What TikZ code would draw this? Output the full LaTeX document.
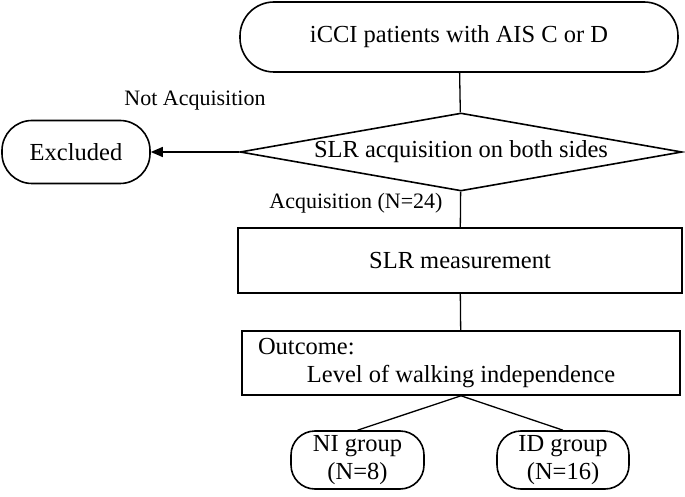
\documentclass[tikz,border=0pt]{standalone}
\usepackage{fontspec}
\setmainfont{Liberation Serif}
\usetikzlibrary{shapes.geometric, arrows.meta}
\newcommand{\boxfont}{\fontsize{24.5}{28}\selectfont}
\newcommand{\labfont}{\fontsize{22}{26}\selectfont}
\tikzstyle{startstop} = [rectangle, rounded corners=34pt, minimum width=438pt, minimum height=70pt, text centered, draw=black, line width=1.6pt, font=\boxfont]
\tikzstyle{exclude} = [rectangle, rounded corners=30pt, minimum width=148pt, minimum height=63pt, text centered, draw=black, line width=1.6pt, font=\boxfont]
\tikzstyle{decision} = [diamond, aspect=5.67, inner sep=0pt, minimum width=442pt, minimum height=78pt, text centered, draw=black, line width=1.6pt, font=\boxfont]
\tikzstyle{process} = [rectangle, minimum width=444pt, minimum height=65pt, text centered, draw=black, line width=1.6pt, font=\boxfont]
\tikzstyle{group} = [rectangle, rounded corners=24pt, minimum width=133pt, minimum height=58pt, align=center, inner sep=0pt, draw=black, line width=1.6pt, font=\boxfont]
\tikzstyle{line} = [line width=1.3pt, draw=black]
\tikzstyle{arrow} = [line width=1.3pt, -{Triangle[length=12pt,width=10pt]}, draw=black]

\begin{document}
\begin{tikzpicture}[x=1pt, y=1pt]
  \useasboundingbox (0,0) rectangle (685,496);
  % Draw nodes
  \node (start) [startstop] at (459,459) {iCCI patients with AIS C or D};
  \node (check) [decision] at (461,344) {SLR acquisition on both sides};
  \node (excl) [exclude] at (76,344) {Excluded};
  \node (slr) [process] at (460,235.5) {SLR measurement};
  \node (outcome) [process, minimum width=438pt, minimum height=64pt, align=center] at (461,133)
        {\makebox[406pt][l]{Outcome:}\\Level of walking independence};
  \node (ni) [group] at (357.5,36) {NI group\\(N=8)};
  \node (id) [group, minimum width=132pt] at (563,36) {ID group\\(N=16)};
  % Draw arrows
  \draw [line] (start) -- (check);
  \draw [arrow] (check) -- node[yshift=51pt, font=\labfont] {Not Acquisition} (excl);
  \draw [line] (check) -- node[left=14pt, yshift=6pt, font=\labfont] {Acquisition (N=24)} (slr);
  \draw [line] (slr) -- (outcome);
  \draw [line] (outcome.south) -- (ni.north);
  \draw [line] (outcome.south) -- (id.north);
\end{tikzpicture}
\end{document}
